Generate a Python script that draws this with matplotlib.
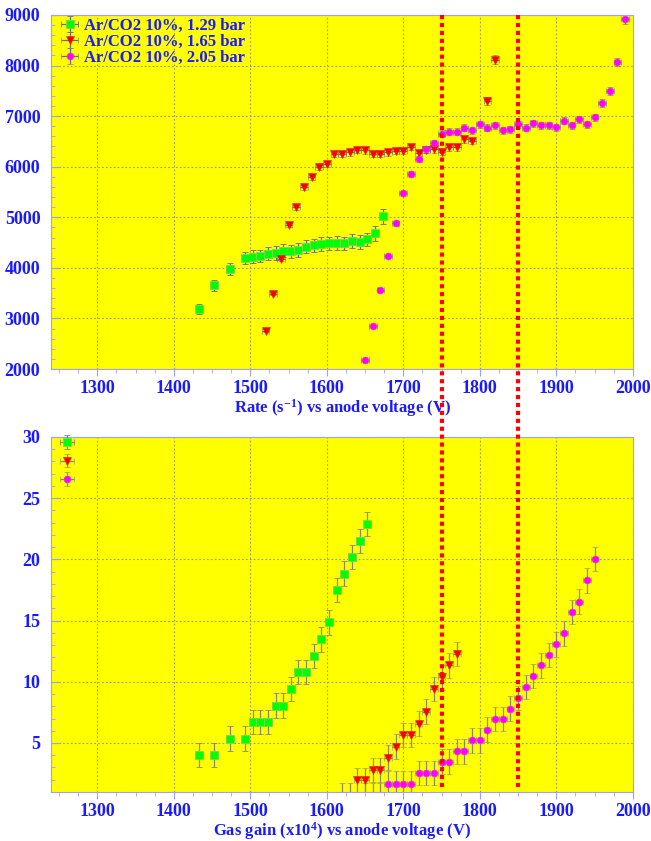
import matplotlib.pyplot as plt
from matplotlib.lines import Line2D
from matplotlib.ticker import MultipleLocator
import matplotlib.transforms as mtransforms
import numpy as np

plt.rcParams["font.family"] = "Liberation Serif"
plt.rcParams["font.weight"] = "bold"
plt.rcParams["axes.labelweight"] = "bold"
plt.rcParams["mathtext.fontset"] = "custom"
plt.rcParams["mathtext.rm"] = "Liberation Serif:bold"
plt.rcParams["mathtext.bf"] = "Liberation Serif:bold"
plt.rcParams["mathtext.it"] = "Liberation Serif:bold"

# --- Données : Ar/CO2 10 %, trois pressions ---
labels = ["Ar/CO2 10%, 1.29 bar", "Ar/CO2 10%, 1.65 bar", "Ar/CO2 10%, 2.05 bar"]

# Taux de comptage (s^-1) en fonction de la tension d'anode (V)
v_rate_129 = [1433, 1453, 1473, 1493, 1503, 1513, 1523, 1533, 1543, 1553, 1563,
              1573, 1583, 1593, 1603, 1613, 1623, 1633, 1643, 1653, 1663, 1673]
rate_129 = [3190, 3660, 3975, 4196, 4222, 4235, 4275, 4294, 4340, 4327, 4353,
            4418, 4444, 4471, 4484, 4497, 4484, 4529, 4516, 4562, 4680, 5020]

v_rate_165 = [1520, 1530, 1540, 1550, 1560, 1570, 1580, 1590, 1600, 1610, 1620,
              1630, 1640, 1650, 1660, 1670, 1680, 1690, 1700, 1710, 1720, 1730,
              1740, 1750, 1760, 1770, 1780, 1790, 1810, 1820]
rate_165 = [2758, 3490, 4176, 4850, 5196, 5590, 5789, 5993, 6053, 6250, 6250,
            6283, 6329, 6322, 6250, 6250, 6283, 6309, 6314, 6392, 6275, 6330,
            6341, 6294, 6380, 6380, 6543, 6510, 7296, 8118]

v_rate_205 = [1650, 1660, 1670, 1680, 1690, 1700, 1710, 1720, 1730, 1740, 1750,
              1760, 1770, 1780, 1790, 1800, 1810, 1820, 1830, 1840, 1850, 1860,
              1870, 1880, 1890, 1900, 1910, 1920, 1930, 1940, 1950, 1960, 1970,
              1980, 1990]
rate_205 = [2183, 2850, 3569, 4235, 4882, 5472, 5862, 6145, 6341, 6471, 6655,
            6694, 6694, 6772, 6720, 6837, 6772, 6816, 6717, 6743, 6836, 6770,
            6862, 6822, 6816, 6783, 6908, 6816, 6941, 6842, 6974, 7257, 7493,
            8066, 8914]

# Gain du gaz (x10^4) en fonction de la tension d'anode (V)
v_gain_129 = [1433, 1453, 1473, 1493, 1503, 1513, 1523, 1533, 1543, 1553, 1563,
              1573, 1583, 1593, 1603, 1613, 1623, 1633, 1643, 1653]
gain_129 = [4.02, 4.02, 5.36, 5.36, 6.72, 6.72, 6.72, 8.06, 8.06, 9.40, 10.79,
            10.79, 12.10, 13.47, 14.85, 17.50, 18.83, 20.19, 21.52, 22.88]

v_gain_165 = [1620, 1630, 1640, 1650, 1660, 1670, 1680, 1690, 1700, 1710, 1720,
              1730, 1740, 1750, 1760, 1770]
gain_165 = [0.7, 0.7, 1.95, 1.95, 2.81, 2.81, 3.80, 4.70, 5.66, 5.66, 6.58,
            7.57, 9.40, 10.36, 11.34, 12.27]

v_gain_205 = [1650, 1660, 1670, 1680, 1690, 1700, 1710, 1720, 1730, 1740, 1750,
              1760, 1770, 1780, 1790, 1800, 1810, 1820, 1830, 1840, 1850, 1860,
              1870, 1880, 1890, 1900, 1910, 1920, 1930, 1940, 1950]
gain_205 = [0.7, 0.7, 0.7, 1.69, 1.69, 1.69, 1.69, 2.57, 2.57, 2.57, 3.47,
            3.47, 4.32, 4.32, 5.22, 5.22, 6.09, 6.94, 6.94, 7.81, 8.69, 9.56,
            10.46, 11.34, 12.21, 13.06, 13.95, 15.70, 16.55, 18.29, 20.03]

# Incertitudes
XERR = 5            # V
REL_ERR_129 = 0.03  # relative, taux à 1.29 bar
REL_ERR_HP = 0.01   # relative, taux à 1.65 et 2.05 bar
GAIN_ERR = 1.0      # x10^4

# Tensions de travail repérées
v_marks = [1750, 1850]

# --- Style ---
BLEU = "#1a1aff"
styles = [
    dict(marker="s", ms=5.5, mfc="#00ff00", mec="#77dd44", mew=0.6),
    dict(marker="v", ms=5.5, mfc="#ff0000", mec="#dd2200", mew=0.4),
    dict(marker="o", ms=5, mfc="#ff00ff", mec="#dd44dd", mew=0.4),
]

fig = plt.figure(figsize=(6.51, 8.41), dpi=100)
ax1 = fig.add_axes([0.079, 0.5612, 0.893, 0.4210])
ax2 = fig.add_axes([0.079, 0.0586, 0.893, 0.4218])


def habiller(ax, ylo, yhi, ymaj, ymin, xlabel):
    ax.set_facecolor("#ffff00")
    ax.set_xlim(1240, 2000)
    ax.set_ylim(ylo, yhi)
    ax.xaxis.set_major_locator(MultipleLocator(100))
    ax.xaxis.set_minor_locator(MultipleLocator(25))
    ax.yaxis.set_major_locator(MultipleLocator(ymaj))
    ax.yaxis.set_minor_locator(MultipleLocator(ymin))
    ax.grid(True, which="major", color="#9a9a6a", linestyle=(0, (1.5, 2)), linewidth=0.8)
    for s in ax.spines.values():
        s.set_color("#a0a0ff")
        s.set_linewidth(0.8)
    ax.tick_params(axis="x", which="both", direction="out", colors="#a0a0ff",
                   labelcolor=BLEU, labelsize=13, pad=3)
    ax.tick_params(axis="x", which="major", length=5)
    ax.tick_params(axis="x", which="minor", length=3)
    ax.tick_params(axis="y", which="both", direction="in", colors="#a0a0ff",
                   labelcolor=BLEU, labelsize=13, pad=8)
    ax.tick_params(axis="y", which="major", length=6)
    ax.tick_params(axis="y", which="minor", length=3)
    ax.set_xlabel(xlabel, color=BLEU, fontsize=12, labelpad=0)
    ax.set_axisbelow(True)


# --- Panneau du haut : taux ---
series_rate = [(v_rate_129, rate_129, REL_ERR_129),
               (v_rate_165, rate_165, REL_ERR_HP),
               (v_rate_205, rate_205, REL_ERR_HP)]
handles = []
for (v, r, rel), st, lab in zip(series_rate, styles, labels):
    r = np.array(r)
    h = ax1.errorbar(v, r, xerr=XERR, yerr=rel * r, ls="none", ecolor="#6b6b8a",
                     elinewidth=0.9, capsize=2, capthick=0.9, label=lab, **st)
    handles.append(h)
habiller(ax1, 2000, 9000, 1000, 200, r"Rate (s$^{-1}$) vs anode voltage (V)")
ax1.legend(handles=handles, loc="upper left", frameon=False,
           bbox_to_anchor=(0.0, 1.015), borderaxespad=0.1,
           handlelength=1.2, handletextpad=0.25, labelspacing=0.0,
           prop={"family": "Liberation Serif", "weight": "bold", "size": 12},
           labelcolor=BLEU)

# --- Panneau du bas : gain ---
series_gain = [(v_gain_129, gain_129), (v_gain_165, gain_165), (v_gain_205, gain_205)]
handles = []
for (v, g), st in zip(series_gain, styles):
    h = ax2.errorbar(v, g, xerr=XERR, yerr=GAIN_ERR, ls="none", ecolor="#8a8a70",
                     elinewidth=0.9, capsize=2, capthick=0.9, **st)
    handles.append(h)
habiller(ax2, 1.02, 30, 5, 1, r"Gas gain (x10$^{4}$) vs anode voltage (V)")
ax2.legend(handles=handles, labels=["", "", ""], loc="upper left", frameon=False,
           bbox_to_anchor=(0.0, 1.02), borderaxespad=0.1,
           handlelength=1.2, labelspacing=0.4)

# Lignes verticales rouges en pointillés traversant les deux panneaux
trans = mtransforms.blended_transform_factory(ax1.transData, fig.transFigure)
for v in v_marks:
    fig.add_artist(Line2D([v, v], [1 - 15 / 841, 1 - 787 / 841], transform=trans,
                          color="#ff0000", linewidth=3, linestyle=(0, (1, 0.9)),
                          dash_capstyle="butt", zorder=10))

fig.savefig("out.png", dpi=100)
